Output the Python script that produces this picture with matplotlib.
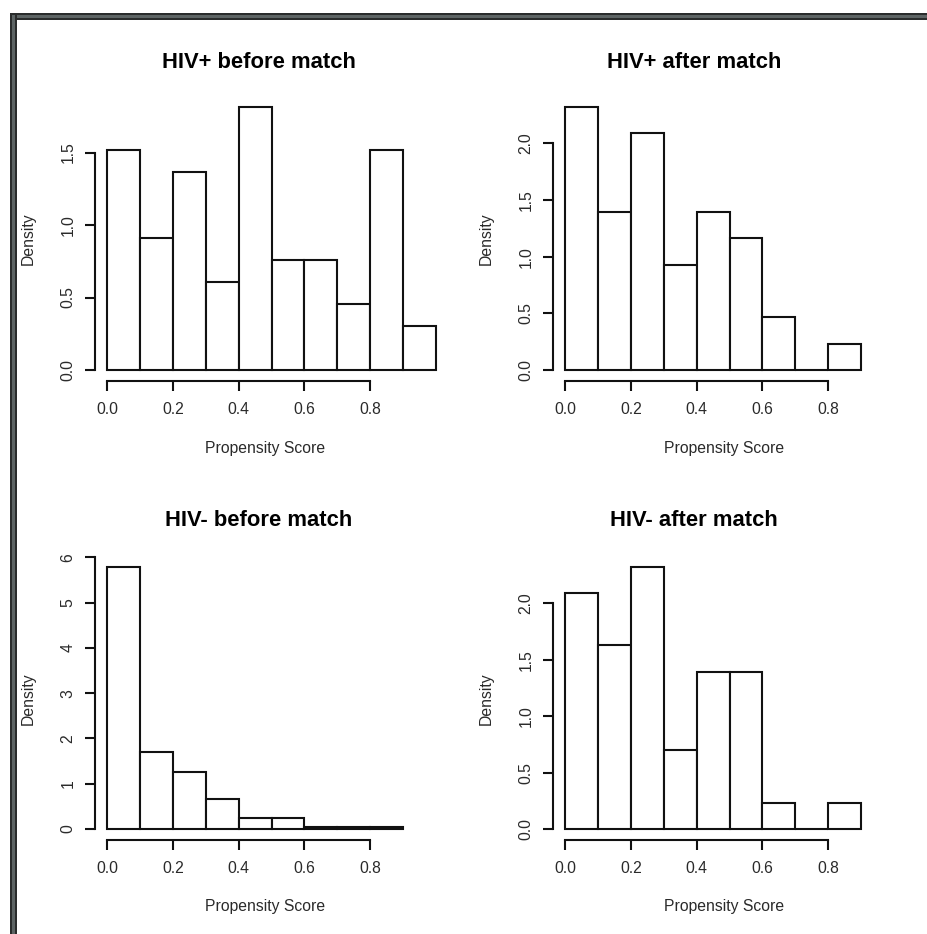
import matplotlib
matplotlib.use("Agg")
import matplotlib.pyplot as plt
from matplotlib.patches import Rectangle

plt.rcParams['font.family'] = ['Liberation Sans', 'DejaVu Sans']

# ---- data (densities per 0.1-wide bin) ----
bins_hivpos_before = [0.0, 0.1, 0.2, 0.3, 0.4, 0.5, 0.6, 0.7, 0.8, 0.9, 1.0]
dens_hivpos_before = [1.515, 0.909, 1.364, 0.606, 1.818, 0.758, 0.758, 0.455, 1.515, 0.303]

bins_hivpos_after = [0.0, 0.1, 0.2, 0.3, 0.4, 0.5, 0.6, 0.7, 0.8, 0.9]
dens_hivpos_after = [2.326, 1.395, 2.093, 0.930, 1.395, 1.163, 0.465, 0.0, 0.233]

bins_hivneg_before = [0.0, 0.1, 0.2, 0.3, 0.4, 0.5, 0.6, 0.7, 0.8, 0.9]
dens_hivneg_before = [5.80, 1.70, 1.27, 0.67, 0.24, 0.24, 0.05, 0.05, 0.05]

bins_hivneg_after = [0.0, 0.1, 0.2, 0.3, 0.4, 0.5, 0.6, 0.7, 0.8, 0.9]
dens_hivneg_after = [2.093, 1.628, 2.326, 0.698, 1.395, 1.395, 0.233, 0.0, 0.233]

titles = ["HIV+ before match", "HIV+ after match", "HIV- before match", "HIV- after match"]
xticks = [0.0, 0.2, 0.4, 0.6, 0.8]
xticklabels = ["0.0", "0.2", "0.4", "0.6", "0.8"]
yticks_list = [[0.0, 0.5, 1.0, 1.5],
               [0.0, 0.5, 1.0, 1.5, 2.0],
               [0, 1, 2, 3, 4, 5, 6],
               [0.0, 0.5, 1.0, 1.5, 2.0]]
ytick_fmt = ["{:.1f}", "{:.1f}", "{:d}", "{:.1f}"]
xlabel = "Propensity Score"
ylabel = "Density"

W, H = 927, 934
fig = plt.figure(figsize=(W / 100, H / 100), dpi=100)
fig.patch.set_facecolor('white')

def rect(l, r, t, b):
    return [l / W, 1 - b / H, (r - l) / W, (b - t) / H]

# panel boxes in pixels: (left, right, top, bottom)
boxes = [(95, 415, 96, 380.5), (553, 873, 96, 380.5),
         (95, 415, 556, 839.5), (553, 873, 556, 839.5)]
# text positions in pixels
title_pos = [(258.7, 62.7), (693.8, 62.7), (258.7, 520.7), (693.8, 520.7)]
xlabel_pos = [(265, 448.3), (723.7, 448.3), (265, 906.7), (723.7, 906.7)]
ylabel_pos = [(28.3, 238.3), (486.7, 238.3), (28.3, 698.3), (486.7, 698.3)]

data = [(bins_hivpos_before, dens_hivpos_before),
        (bins_hivpos_after, dens_hivpos_after),
        (bins_hivneg_before, dens_hivneg_before),
        (bins_hivneg_after, dens_hivneg_after)]

lw = 1.5
for i, (edges, dens) in enumerate(data):
    l, r, t, b = boxes[i]
    ax = fig.add_axes(rect(l, r, t, b))
    ax.set_facecolor('none')
    x0 = (l - (l + 12)) / 329.0
    x1 = (r - (l + 12)) / 329.0
    ax.set_xlim(x0, x1)
    ymax = max(dens)
    ax.set_ylim(-0.04 * ymax, 1.04 * ymax)
    ax.bar(edges[:-1], dens, width=0.1, align='edge', facecolor='white',
           edgecolor='#111111', linewidth=lw, clip_on=False, zorder=3)
    for s in ['top', 'right']:
        ax.spines[s].set_visible(False)
    ax.spines['left'].set_bounds(0, yticks_list[i][-1])
    ax.spines['bottom'].set_bounds(0, 0.8)
    for s in ['left', 'bottom']:
        ax.spines[s].set_linewidth(lw)
        ax.spines[s].set_color('#111111')
    ax.set_xticks(xticks)
    ax.set_xticklabels(xticklabels)
    ax.set_yticks(yticks_list[i])
    ax.set_yticklabels([ytick_fmt[i].format(v) for v in yticks_list[i]],
                       rotation=90, va='center')
    ax.tick_params(axis='both', length=7.2, width=lw, color='#111111',
                   labelsize=11.3, labelcolor='#2a2a2a')
    ax.tick_params(axis='x', pad=8.5)
    ax.tick_params(axis='y', pad=7.0)
    fig.text(title_pos[i][0] / W, 1 - title_pos[i][1] / H, titles[i],
             ha='center', va='center', fontsize=15.8, fontweight='bold', color='black')
    fig.text(xlabel_pos[i][0] / W, 1 - xlabel_pos[i][1] / H, xlabel,
             ha='center', va='center', fontsize=11.3, color='#2a2a2a')
    fig.text(ylabel_pos[i][0] / W, 1 - ylabel_pos[i][1] / H, ylabel,
             ha='center', va='center', fontsize=11.3, color='#2a2a2a', rotation=90)

# screenshot frame (top and left borders)
def band(x, y, w, h, c):
    fig.patches.append(Rectangle((x / W, 1 - (y + h) / H), w / W, h / H,
                                 transform=fig.transFigure, facecolor=c,
                                 edgecolor='none', zorder=10))

band(10, 13, W - 10, 7, '#2a2c2c')
band(13, 15, W - 13, 3, '#5d6464')
band(10, 13, 7, H - 13, '#2a2c2c')
band(12, 15, 3, H - 15, '#5d6464')

fig.savefig("out.png", dpi=100, facecolor='white')
